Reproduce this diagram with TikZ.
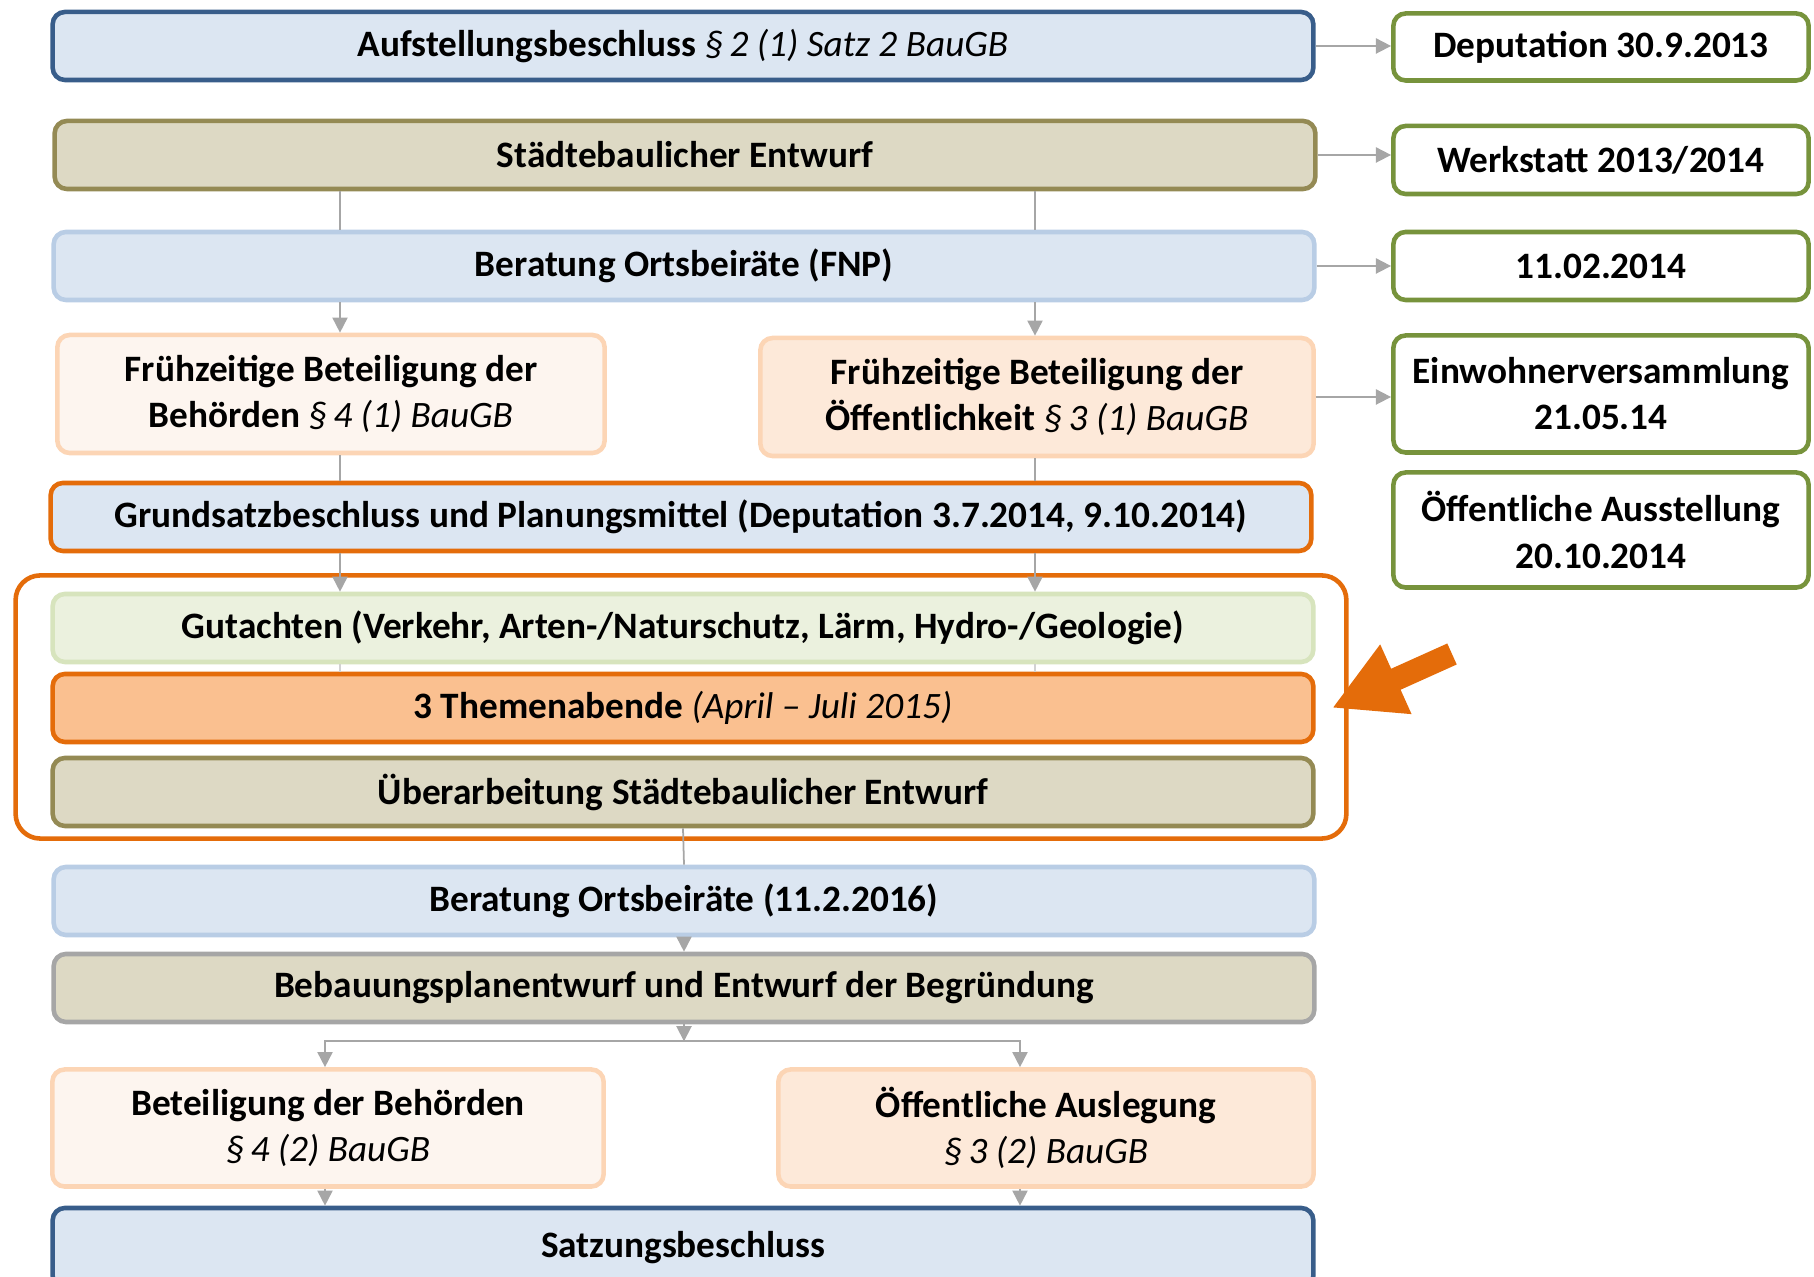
\documentclass[tikz,border=0pt]{standalone}
\usepackage{fontspec}
\setmainfont{Carlito}
\usepackage{tikz}
\usetikzlibrary{positioning, arrows.meta, shapes, calc}
\usepackage{xcolor}

\definecolor{dunkelblau}{HTML}{385D8A}
\definecolor{blaufill}{HTML}{DCE6F2}
\definecolor{blaurand}{HTML}{B9CDE5}
\definecolor{oliv}{HTML}{948A54}
\definecolor{olivfill}{HTML}{DDD9C4}
\definecolor{orangerand}{HTML}{E46C0A}
\definecolor{orangefill}{HTML}{FAC090}
\definecolor{pfirsichrand}{HTML}{FCD5B5}
\definecolor{pfirsichhell}{HTML}{FDF5EF}
\definecolor{pfirsich}{HTML}{FDE9D9}
\definecolor{gruenrand}{HTML}{77933C}
\definecolor{gutfill}{HTML}{EBF1DE}
\definecolor{gutrand}{HTML}{D7E4BD}
\definecolor{linie}{HTML}{A6A6A6}

\newcommand{\para}[1]{{\mdseries\itshape #1}}

\begin{document}
\begin{tikzpicture}[x=0.01cm, y=-0.01cm,
  box/.style={draw, rounded corners=3.5pt, line width=1.3pt, align=center, inner sep=0pt,
    font=\bfseries\fontsize{10.6}{13.1}\selectfont},
  breit/.style={minimum width=12.6cm, minimum height=0.68cm},
  rechts/.style={box, draw=gruenrand, fill=white, minimum width=4.15cm},
  conn/.style={draw=linie, line width=0.5pt, -{Triangle[length=4.3pt, width=4.3pt]}},
  linie/.style={draw=linie, line width=0.5pt}]
\useasboundingbox (0,0) rectangle (1814,1277);

% Hauptspalte
\node[box, breit, draw=dunkelblau, fill=blaufill] (aufst) at (683,46) {Aufstellungsbeschluss \para{§\,2 (1) Satz 2 BauGB}};
\node[box, breit, draw=oliv, fill=olivfill] (entwurf) at (685,155) {Städtebaulicher Entwurf};
\node[box, breit, draw=blaurand, fill=blaufill] (fnp) at (684,266) {Beratung Ortsbeiräte (FNP)};
\node[box, draw=pfirsichrand, fill=pfirsichhell, minimum width=5.47cm, minimum height=1.18cm] (fbeh) at (331,394) {Frühzeitige Beteiligung der\\Behörden \para{§\,4 (1) BauGB}};
\node[box, draw=pfirsichrand, fill=pfirsich, minimum width=5.53cm, minimum height=1.18cm] (foef) at (1037,397) {Frühzeitige Beteiligung der\\Öffentlichkeit \para{§\,3 (1) BauGB}};
\node[box, breit, draw=orangerand, fill=blaufill] (grund) at (681,517) {Grundsatzbeschluss und Planungsmittel (Deputation 3.7.2014, 9.10.2014)};

% Gruppe
\node[draw=orangerand, line width=1.3pt, rounded corners=7pt, fill=white, minimum width=13.3cm, minimum height=2.63cm] (gruppe) at (681,707) {};
\node[box, breit, draw=gutrand, fill=gutfill] (gut) at (683,628) {Gutachten (Verkehr, Arten-/Naturschutz, Lärm, Hydro-/Geologie)};
\node[box, breit, draw=orangerand, fill=orangefill] (themen) at (683,708) {3 Themenabende \para{(April – Juli 2015)}};
\node[box, breit, draw=oliv, fill=olivfill] (ueber) at (683,792) {Überarbeitung Städtebaulicher Entwurf};

\node[box, breit, draw=blaurand, fill=blaufill] (fnpzwei) at (684,901) {Beratung Ortsbeiräte (11.2.2016)};
\node[box, breit, draw=linie, fill=olivfill] (bplan) at (684,988) {Bebauungsplanentwurf und Entwurf der Begründung};
\node[box, draw=pfirsichrand, fill=pfirsichhell, minimum width=5.51cm, minimum height=1.17cm] (beh) at (328,1128) {Beteiligung der Behörden\\\para{§\,4 (2) BauGB}};
\node[box, draw=pfirsichrand, fill=pfirsich, minimum width=5.35cm, minimum height=1.17cm] (ausl) at (1046,1128) {Öffentliche Auslegung\\\para{§\,3 (2) BauGB}};
\node[box, breit, draw=dunkelblau, fill=blaufill, minimum height=0.8cm] (satz) at (683,1248) {Satzungsbeschluss};

% Termine
\node[rechts, minimum height=0.67cm] (dep) at (1601,47) {Deputation 30.9.2013};
\node[rechts, minimum height=0.68cm] (werk) at (1601,160) {Werkstatt 2013/2014};
\node[rechts, minimum height=0.68cm] (termin) at (1601,266) {11.02.2014};
\node[rechts, minimum height=1.17cm] (einw) at (1601,394) {Einwohnerversammlung\\21.05.14};
\node[rechts, minimum height=1.15cm] (ausst) at (1601,530) {Öffentliche Ausstellung\\20.10.2014};

% Verbindungen
\coordinate (li) at (340,0);
\coordinate (re) at (1035,0);
\coordinate (liu) at (325,0);
\coordinate (reu) at (1020,0);
\draw[conn] (aufst.east) -- (aufst.east -| dep.west);
\draw[conn] (entwurf.east) -- (entwurf.east -| werk.west);
\draw[conn] (fnp.east) -- (fnp.east -| termin.west);
\draw[conn] (foef.east) -- (foef.east -| einw.west);

\draw[linie] (entwurf.south -| li) -- (fnp.north -| li);
\draw[linie] (entwurf.south -| re) -- (fnp.north -| re);
\draw[conn] (fnp.south -| li) -- (fbeh.north -| li);
\draw[conn] (fnp.south -| re) -- (foef.north -| re);
\draw[linie] (fbeh.south -| li) -- (grund.north -| li);
\draw[linie] (foef.south -| re) -- (grund.north -| re);
\draw[conn] (grund.south -| li) -- (gut.north -| li);
\draw[conn] (grund.south -| re) -- (gut.north -| re);
\draw[linie, draw=linie!50] (gut.south -| li) -- (themen.north -| li);
\draw[linie, draw=linie!50] (gut.south -| re) -- (themen.north -| re);

\draw[linie] (ueber.south) -- (fnpzwei.north);
\draw[conn] (fnpzwei.south) -- (bplan.north);
\path (bplan.south) ++(0,17) coordinate (verteiler);
\draw[conn] (bplan.south) -- (verteiler);
\draw[conn] (verteiler) -| (beh.north -| liu);
\draw[conn] (verteiler) -| (ausl.north -| reu);
\draw[conn] (beh.south -| liu) -- (satz.north -| liu);
\draw[conn] (ausl.south -| reu) -- (satz.north -| reu);

% Hinweispfeil
\coordinate (pfeilende) at (1452,654);
\coordinate (pfeilspitze) at (1332,708);
\draw[orangerand, line width=0.23cm, -{Triangle[length=0.7cm, width=0.71cm]}] (pfeilende) -- (pfeilspitze);
\end{tikzpicture}
\end{document}
